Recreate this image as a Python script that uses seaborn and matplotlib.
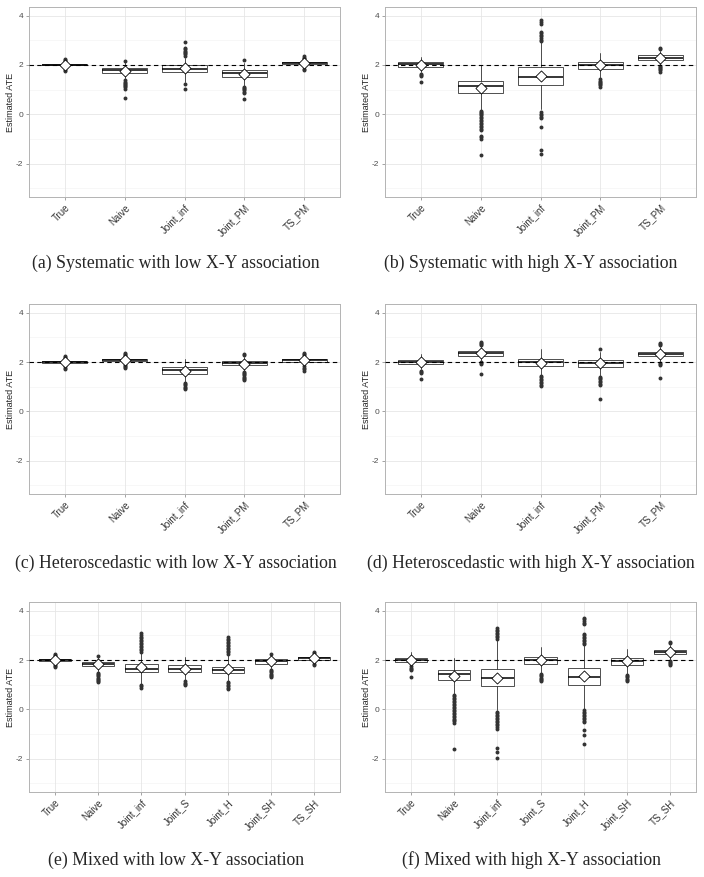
import matplotlib
matplotlib.use("Agg")
import matplotlib.pyplot as plt
import seaborn as sns
import pandas as pd

methods_pm = ["True", "Naive", "Joint_inf", "Joint_PM", "TS_PM"]
methods_sh = ["True", "Naive", "Joint_inf", "Joint_S", "Joint_H", "Joint_SH", "TS_SH"]

# (a) Systematic, low X-Y association
a_q1 = [1.98, 1.69, 1.70, 1.51, 2.03]
a_med = [2.00, 1.78, 1.84, 1.66, 2.08]
a_q3 = [2.03, 1.88, 2.00, 1.80, 2.14]
a_lo = [1.90, 1.42, 1.30, 1.15, 1.88]
a_hi = [2.12, 2.12, 2.30, 2.10, 2.22]
a_mean = [2.00, 1.77, 1.87, 1.65, 2.08]
a_out = [
    [2.24, 2.20, 2.16, 1.81, 1.76],
    [2.18, 1.38, 1.33, 1.28, 1.24, 1.20, 1.16, 1.10, 1.04, 0.68],
    [2.38, 2.43, 2.48, 2.53, 2.58, 2.63, 2.69, 2.94, 1.24, 1.02],
    [2.22, 1.12, 1.07, 1.02, 0.97, 0.92, 0.88, 0.63],
    [2.35, 2.30, 2.27, 1.84, 1.80],
]

# (b) Systematic, high X-Y association
b_q1 = [1.92, 0.86, 1.18, 1.84, 2.19]
b_med = [2.02, 1.14, 1.51, 2.00, 2.28]
b_q3 = [2.12, 1.36, 1.90, 2.14, 2.39]
b_lo = [1.70, 0.15, 0.20, 1.47, 1.98]
b_hi = [2.33, 2.00, 2.92, 2.49, 2.58]
b_mean = [2.00, 1.06, 1.56, 1.98, 2.30]
b_out = [
    [1.65, 1.60, 1.55, 1.32],
    [0.12, 0.08, 0.04, 0.00, -0.04, -0.10, -0.16, -0.22, -0.28, -0.34,
     -0.40, -0.46, -0.52, -0.58, -0.64, -0.86, -0.92, -1.00, -1.63],
    [2.97, 3.03, 3.10, 3.16, 3.22, 3.28, 3.34, 3.66, 3.74, 3.82,
     0.08, 0.02, -0.04, -0.10, -0.16, -0.50, -1.46, -1.60],
    [1.42, 1.37, 1.32, 1.27, 1.22, 1.17, 1.12],
    [2.63, 2.68, 1.94, 1.90, 1.86, 1.82, 1.78, 1.73],
]

# (c) Heteroscedastic, low X-Y association
c_q1 = [1.96, 2.03, 1.52, 1.87, 2.01]
c_med = [2.00, 2.08, 1.67, 1.96, 2.07]
c_q3 = [2.04, 2.13, 1.79, 2.03, 2.12]
c_lo = [1.88, 1.90, 1.20, 1.65, 1.86]
c_hi = [2.12, 2.22, 2.13, 2.20, 2.25]
c_mean = [2.00, 2.08, 1.65, 1.94, 2.08]
c_out = [
    [2.16, 2.20, 2.24, 1.82, 1.76, 1.72],
    [2.26, 2.30, 2.34, 2.37, 1.86, 1.82, 1.78, 1.74],
    [1.15, 1.10, 1.05, 1.00, 0.95, 0.90],
    [2.27, 2.32, 1.61, 1.56, 1.51, 1.46, 1.41, 1.36, 1.31, 1.26],
    [2.29, 2.33, 2.37, 1.82, 1.76, 1.70, 1.65],
]

# (d) Heteroscedastic, high X-Y association
d_q1 = [1.91, 2.24, 1.83, 1.81, 2.23]
d_med = [1.99, 2.35, 1.99, 1.97, 2.32]
d_q3 = [2.07, 2.43, 2.11, 2.07, 2.41]
d_lo = [1.70, 2.05, 1.48, 1.45, 2.00]
d_hi = [2.32, 2.62, 2.52, 2.40, 2.62]
d_mean = [2.00, 2.36, 1.98, 1.96, 2.33]
d_out = [
    [1.65, 1.60, 1.57, 1.31],
    [2.68, 2.72, 2.76, 2.81, 2.01, 1.96, 1.90, 1.53],
    [1.44, 1.38, 1.32, 1.26, 1.20, 1.14, 1.08, 1.02],
    [2.53, 1.41, 1.36, 1.30, 1.24, 1.18, 1.12, 1.06, 0.51],
    [2.68, 2.72, 2.76, 1.95, 1.91, 1.88, 1.36],
]

# (e) Mixed, low X-Y association
e_q1 = [1.95, 1.76, 1.50, 1.50, 1.46, 1.85, 2.01]
e_med = [2.00, 1.85, 1.65, 1.65, 1.60, 1.96, 2.07]
e_q3 = [2.04, 1.93, 1.83, 1.79, 1.73, 2.03, 2.12]
e_lo = [1.84, 1.53, 1.03, 1.17, 1.17, 1.64, 1.88]
e_hi = [2.14, 2.10, 2.30, 2.13, 2.20, 2.17, 2.24]
e_mean = [2.00, 1.83, 1.70, 1.65, 1.62, 1.96, 2.08]
e_out = [
    [2.18, 2.21, 2.24, 1.80, 1.76, 1.73],
    [2.16, 1.49, 1.44, 1.39, 1.34, 1.29, 1.24, 1.19, 1.14, 1.09],
    [2.34, 2.40, 2.46, 2.52, 2.58, 2.64, 2.70, 2.76, 2.82, 2.88, 2.94, 3.00, 3.11,
     0.99, 0.93, 0.88],
    [1.13, 1.08, 1.03, 0.98],
    [2.26, 2.32, 2.38, 2.44, 2.50, 2.56, 2.62, 2.68, 2.74, 2.80, 2.86, 2.95,
     1.12, 1.06, 1.00, 0.94, 0.88, 0.84],
    [2.24, 1.60, 1.55, 1.50, 1.45, 1.40, 1.35, 1.30],
    [2.28, 2.31, 1.84, 1.80],
]

# (f) Mixed, high X-Y association
f_q1 = [1.91, 1.18, 0.94, 1.83, 0.98, 1.80, 2.23]
f_med = [2.00, 1.42, 1.29, 2.00, 1.33, 1.95, 2.34]
f_q3 = [2.09, 1.60, 1.64, 2.12, 1.68, 2.08, 2.42]
f_lo = [1.78, 0.63, -0.04, 1.48, 0.03, 1.42, 2.02]
f_hi = [2.31, 2.09, 2.80, 2.51, 2.60, 2.44, 2.62]
f_mean = [2.00, 1.37, 1.29, 1.99, 1.36, 1.95, 2.33]
f_out = [
    [1.74, 1.69, 1.64, 1.61, 1.32],
    [0.59, 0.53, 0.47, 0.41, 0.35, 0.29, 0.23, 0.17, 0.11, 0.05, -0.01, -0.07,
     -0.13, -0.19, -0.25, -0.31, -0.37, -0.43, -0.49, -0.55, -1.61],
    [2.87, 2.93, 2.99, 3.05, 3.11, 3.17, 3.23, 3.28, -0.10, -0.16, -0.22, -0.28,
     -0.34, -0.40, -0.46, -0.52, -0.58, -0.64, -0.70, -0.78, -1.56, -1.72, -1.96],
    [1.44, 1.39, 1.34, 1.29, 1.24, 1.19, 1.14],
    [2.64, 2.70, 2.76, 2.82, 2.88, 2.94, 3.00, 3.05, 3.45, 3.52, 3.60, 3.66, 3.72,
     -0.04, -0.10, -0.16, -0.22, -0.28, -0.34, -0.40, -0.46, -0.51, -0.82, -1.05, -1.42],
    [1.40, 1.35, 1.30, 1.25, 1.20, 1.15],
    [2.68, 2.75, 1.97, 1.93, 1.89, 1.85, 1.81],
]

captions = [
    "(a) Systematic with low X-Y association",
    "(b) Systematic with high X-Y association",
    "(c) Heteroscedastic with low X-Y association",
    "(d) Heteroscedastic with high X-Y association",
    "(e) Mixed with low X-Y association",
    "(f) Mixed with high X-Y association",
]

sns.set_theme(style="white")
plt.rcParams["font.family"] = ["Liberation Sans", "DejaVu Sans"]

fig = plt.figure(figsize=(7.04, 8.77), dpi=100)

# axes boxes in figure fractions
col_left = [0.0412, 0.5469]
row_bottom = [0.7754, 0.4367, 0.0969]
ax_w, ax_h = 0.4418, 0.2166
cap_y = [1 - 263 / 877, 1 - 563 / 877, 1 - 860 / 877]
cap_x = [176 / 704, 531 / 704]

panels = [
    (methods_pm, a_q1, a_med, a_q3, a_lo, a_hi, a_mean, a_out),
    (methods_pm, b_q1, b_med, b_q3, b_lo, b_hi, b_mean, b_out),
    (methods_pm, c_q1, c_med, c_q3, c_lo, c_hi, c_mean, c_out),
    (methods_pm, d_q1, d_med, d_q3, d_lo, d_hi, d_mean, d_out),
    (methods_sh, e_q1, e_med, e_q3, e_lo, e_hi, e_mean, e_out),
    (methods_sh, f_q1, f_med, f_q3, f_lo, f_hi, f_mean, f_out),
]

for i, (methods, q1, med, q3, lo, hi, mean, out) in enumerate(panels):
    r, c = divmod(i, 2)
    ax = fig.add_axes([col_left[c], row_bottom[r], ax_w, ax_h])
    n = len(methods)
    pos = list(range(n))

    # grid like ggplot theme_bw
    ax.set_axisbelow(True)
    for y in [-3, -1, 1, 3]:
        ax.axhline(y, color="#f4f4f4", lw=0.5, zorder=0)
    for y in [-2, 0, 2, 4]:
        ax.axhline(y, color="#e6e6e6", lw=0.6, zorder=0)
    for x in pos:
        ax.axvline(x, color="#e6e6e6", lw=0.6, zorder=0)

    stats = [dict(q1=q1[k], med=med[k], q3=q3[k], whislo=lo[k], whishi=hi[k], fliers=[])
             for k in range(n)]
    ax.bxp(stats, positions=pos, widths=0.75, showfliers=False, showcaps=False,
           patch_artist=True, manage_ticks=False,
           boxprops=dict(facecolor="white", edgecolor="#333333", linewidth=0.6),
           medianprops=dict(color="black", linewidth=1.1),
           whiskerprops=dict(color="#333333", linewidth=0.6))

    outl = pd.DataFrame([(k, v) for k in range(n) for v in out[k]], columns=["pos", "value"])
    sns.scatterplot(data=outl, x="pos", y="value", ax=ax, color="#333333",
                    s=8, linewidth=0, zorder=3)

    ax.axhline(2, color="black", lw=0.8, ls=(0, (4, 3)), zorder=4)

    means = pd.DataFrame({"pos": pos, "mean": mean})
    sns.scatterplot(data=means, x="pos", y="mean", ax=ax, marker="D", s=32,
                    color="white", edgecolor="black", linewidth=0.6, zorder=5)

    ax.set_xlim(-0.6, n - 0.4)
    ax.set_ylim(-3.35, 4.35)
    ax.set_yticks([-2, 0, 2, 4])
    ax.set_yticklabels(["-2", "0", "2", "4"], fontsize=6, color="#4d4d4d")
    ax.set_xticks(pos)
    ax.set_xticklabels(methods, rotation=45, ha="right", rotation_mode="anchor",
                       fontsize=7, color="#333333")
    ax.tick_params(axis="both", length=2, width=0.5, color="#7f7f7f", pad=2,
                   bottom=True, left=True)
    ax.set_xlabel("")
    ax.set_ylabel("Estimated ATE", fontsize=6.5, labelpad=1)
    for sp in ax.spines.values():
        sp.set_color("#b3b3b3")
        sp.set_linewidth(0.7)

    fig.text(cap_x[c], cap_y[r], captions[i], ha="center", va="center",
             fontsize=12.8, family=["Liberation Serif", "DejaVu Serif"])

fig.savefig("out.png", dpi=100)
